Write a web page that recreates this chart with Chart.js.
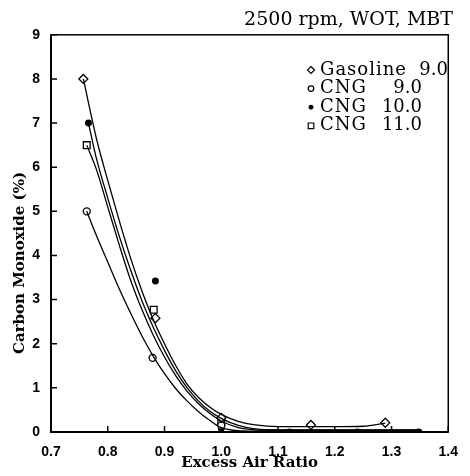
<!DOCTYPE html>
<html>
<head>
<meta charset="utf-8">
<script src="https://cdn.jsdelivr.net/npm/chart.js@4.4.1/dist/chart.umd.min.js"></script>
<style>
  html, body { margin: 0; padding: 0; background: #fff; }
  #wrap { width: 470px; height: 476px; }
</style>
</head>
<body>
<div id="wrap"><canvas id="coChart" width="470" height="476"></canvas></div>
<script>
// measured points (excess air ratio vs CO %)
const gasolineX = [0.757, 0.884, 1.0, 1.158, 1.289];
const gasolineY = [8.0, 2.58, 0.32, 0.16, 0.21];
const cng9X = [0.763, 0.879, 1.0];
const cng9Y = [5.0, 1.68, 0.15];
const cng10X = [0.766, 0.884, 1.0, 1.12, 1.24, 1.348];
const cng10Y = [7.0, 3.42, 0.08, 0.0, 0.0, 0.0];
const cng11X = [0.763, 0.881, 1.0];
const cng11Y = [6.5, 2.77, 0.22];

// fitted curves
const gasFitX = [0.757, 0.78, 0.80, 0.82, 0.84, 0.86, 0.88, 0.90, 0.92, 0.94, 0.96, 0.98, 1.00, 1.03, 1.06, 1.10, 1.15, 1.20, 1.25, 1.289];
const gasFitY = [8.0, 6.65, 5.7, 4.8, 3.95, 3.2, 2.55, 2.0, 1.5, 1.08, 0.78, 0.56, 0.4, 0.24, 0.16, 0.12, 0.12, 0.12, 0.13, 0.2];
const cng9FitX = [0.763, 0.78, 0.80, 0.82, 0.84, 0.86, 0.88, 0.90, 0.92, 0.94, 0.96, 0.98, 1.00, 1.05, 1.10, 1.20, 1.30, 1.35];
const cng9FitY = [5.0, 4.45, 3.85, 3.25, 2.7, 2.18, 1.72, 1.32, 0.98, 0.7, 0.46, 0.26, 0.1, 0.02, 0.02, 0.02, 0.02, 0.02];
const cng10FitX = [0.766, 0.78, 0.80, 0.82, 0.84, 0.86, 0.88, 0.90, 0.92, 0.94, 0.96, 0.98, 1.00, 1.03, 1.06, 1.10, 1.20, 1.30, 1.35];
const cng10FitY = [7.0, 6.2, 5.3, 4.45, 3.68, 2.98, 2.38, 1.85, 1.38, 1.0, 0.7, 0.47, 0.31, 0.15, 0.07, 0.05, 0.05, 0.05, 0.05];
const cng11FitX = [0.763, 0.78, 0.80, 0.82, 0.84, 0.86, 0.88, 0.90, 0.92, 0.94, 0.96, 0.98, 1.00, 1.03, 1.06, 1.10, 1.20, 1.30, 1.35];
const cng11FitY = [6.5, 5.95, 5.1, 4.25, 3.45, 2.78, 2.2, 1.7, 1.27, 0.92, 0.64, 0.42, 0.25, 0.1, 0.05, 0.04, 0.04, 0.04, 0.04];

const legendLabels = ['Gasoline', 'CNG', 'CNG', 'CNG'];
const legendValues = ['9.0', '9.0', '10.0', '11.0'];
const legendStyles = ['rectRot', 'circle', 'dot', 'rect'];

const toPts = (xs, ys) => xs.map((x, i) => ({ x: x, y: ys[i] }));

Chart.defaults.color = '#000';
Chart.defaults.font.family = 'Liberation Sans';

const markerSet = (label, xs, ys, style, radius, filled) => ({
    type: 'scatter',
    label: label,
    data: toPts(xs, ys),
    pointStyle: style,
    pointRadius: radius,
    pointBorderWidth: 1.3,
    pointBorderColor: '#000',
    pointBackgroundColor: filled ? '#000' : '#fff',
    showLine: false,
    clip: filled ? 0 : 4
});

const curveSet = (xs, ys) => ({
    type: 'line',
    data: toPts(xs, ys),
    borderColor: '#000',
    borderWidth: 1.3,
    pointRadius: 0,
    fill: false,
    cubicInterpolationMode: 'monotone'
});

function drawMark(ctx, style, x, y, r) {
    ctx.beginPath();
    if (style === 'rectRot') {
        ctx.moveTo(x, y - r); ctx.lineTo(x + r, y); ctx.lineTo(x, y + r); ctx.lineTo(x - r, y); ctx.closePath();
        ctx.stroke();
    } else if (style === 'circle') {
        ctx.arc(x, y, r * 0.8, 0, Math.PI * 2);
        ctx.stroke();
    } else if (style === 'dot') {
        ctx.arc(x, y, r * 0.7, 0, Math.PI * 2);
        ctx.fill();
    } else {
        ctx.rect(x - r * 0.8, y - r * 0.8, r * 1.6, r * 1.6);
        ctx.stroke();
    }
}

const framePlugin = {
    id: 'frame',
    beforeDatasetsDraw(chart) {
        const { ctx, chartArea: a, scales } = chart;
        ctx.save();
        ctx.strokeStyle = '#000';
        ctx.lineWidth = 1.5;
        ctx.strokeRect(a.left, a.top, a.right - a.left, a.bottom - a.top);
        ctx.lineWidth = 2;
        ctx.beginPath();
        ctx.moveTo(a.left, a.top); ctx.lineTo(a.left, a.bottom); ctx.lineTo(a.right, a.bottom);
        ctx.stroke();
        // inward ticks
        ctx.lineWidth = 1.5;
        ctx.beginPath();
        scales.x.ticks.forEach(t => {
            const px = scales.x.getPixelForValue(t.value);
            ctx.moveTo(px, a.bottom); ctx.lineTo(px, a.bottom - 6);
        });
        scales.y.ticks.forEach(t => {
            const py = scales.y.getPixelForValue(t.value);
            ctx.moveTo(a.left, py); ctx.lineTo(a.left + 6, py);
        });
        ctx.stroke();
        ctx.restore();
    },
    afterDraw(chart) {
        const { ctx } = chart;
        ctx.save();
        ctx.fillStyle = '#000';
        ctx.strokeStyle = '#000';
        ctx.lineWidth = 1.2;
        // legend
        ctx.font = '18px "DejaVu Serif"';
        ctx.textBaseline = 'middle';
        legendLabels.forEach((lab, i) => {
            const y = 70 + i * 18.6;
            drawMark(ctx, legendStyles[i], 311, y, 3.5);
            ctx.letterSpacing = '1px';
            ctx.textAlign = 'left';
            ctx.fillText(lab, 320, y);
            ctx.letterSpacing = '0px';
            ctx.textAlign = 'right';
            ctx.fillText(legendValues[i], i === 0 ? 448 : 422, y);
        });
        // y axis title
        ctx.translate(20, 263);
        ctx.rotate(-Math.PI / 2);
        ctx.font = 'bold 15px "DejaVu Serif"';
        ctx.textAlign = 'center';
        ctx.fillText('Carbon Monoxide (%)', 0, 0);
        ctx.restore();
    }
};

const ctxCo = document.getElementById('coChart').getContext('2d');
const coChart = new Chart(ctxCo, {
    data: {
        datasets: [
            curveSet(gasFitX, gasFitY),
            curveSet(cng9FitX, cng9FitY),
            curveSet(cng10FitX, cng10FitY),
            curveSet(cng11FitX, cng11FitY),
            markerSet('Gasoline 9.0', gasolineX, gasolineY, 'rectRot', 4.5, false),
            markerSet('CNG 9.0', cng9X, cng9Y, 'circle', 3.5, false),
            markerSet('CNG 10.0', cng10X, cng10Y, 'circle', 2.8, true),
            markerSet('CNG 11.0', cng11X, cng11Y, 'rect', 4.8, false)
        ]
    },
    options: {
        responsive: false,
        animation: false,
        devicePixelRatio: 1,
        layout: { padding: { left: 0, right: 17, top: 0, bottom: 0 } },
        plugins: {
            legend: { display: false },
            tooltip: { enabled: false },
            title: {
                display: true,
                text: '2500 rpm, WOT, MBT',
                align: 'end',
                color: '#000',
                font: { family: 'DejaVu Serif', size: 19, weight: 'normal' },
                padding: { top: 9, bottom: 3 }
            }
        },
        scales: {
            x: {
                type: 'linear',
                min: 0.7,
                max: 1.4,
                grid: { display: false, drawTicks: false },
                border: { display: false },
                ticks: {
                    stepSize: 0.1,
                    padding: 12,
                    font: { family: 'Liberation Sans', size: 14, weight: 'bold' },
                    callback: v => v.toFixed(1)
                },
                title: {
                    display: true,
                    text: 'Excess Air Ratio',
                    font: { family: 'DejaVu Serif', size: 15, weight: 'bold' },
                    padding: { top: 0, bottom: 4 }
                },
                afterFit: s => { s.height = 44; }
            },
            y: {
                type: 'linear',
                min: 0,
                max: 9,
                grid: { display: false, drawTicks: false },
                border: { display: false },
                ticks: {
                    stepSize: 1,
                    padding: 11,
                    font: { family: 'Liberation Sans', size: 14, weight: 'bold' }
                },
                afterFit: s => { s.width = 51; }
            }
        }
    },
    plugins: [framePlugin]
});
</script>
</body>
</html>
